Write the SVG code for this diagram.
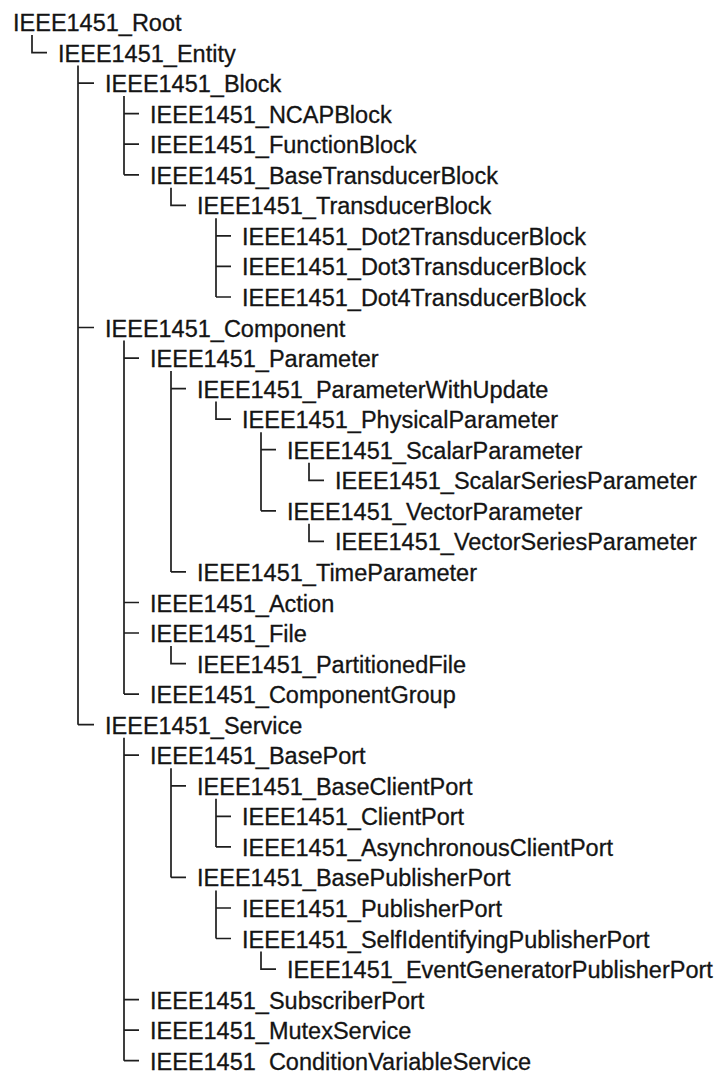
<svg xmlns="http://www.w3.org/2000/svg" width="723" height="1073" viewBox="0 0 723 1073">
<style>
text{font-family:"Liberation Sans",Arial,Helvetica,sans-serif;font-size:23.5px;fill:#141414;stroke:#141414;stroke-width:0.3}
.c path{fill:none;stroke:#1e1e1e;stroke-width:1.7}
</style>
<rect width="723" height="1073" fill="#ffffff"/>
<g class="c" id="connectors">
<path d="M32 35V52.6H47"/>
<path d="M78 65.6V724.7M78 83.1H94M78 327.5H94M78 724.7H94"/>
<path d="M124 96.1V174.8M124 113.7H139M124 144.2H139M124 174.8H139"/>
<path d="M171 187.8V205.3H186"/>
<path d="M216 218.3V297M216 235.9H231M216 266.4H231M216 297H231"/>
<path d="M124 340.5V694.1M124 358.1H139M124 602.5H139M124 633H139M124 694.1H139"/>
<path d="M171 371.1V571.9M171 388.6H186M171 571.9H186"/>
<path d="M216 401.6V419.2H231"/>
<path d="M261 432.2V510.8M261 449.7H276M261 510.8H276"/>
<path d="M309 462.7V480.3H324"/>
<path d="M309 523.8V541.4H324"/>
<path d="M171 646V663.6H186"/>
<path d="M124 737.7V1060.7M124 755.2H139M124 999.6H139M124 1030.2H139M124 1060.7H139"/>
<path d="M171 768.2V877.4M171 785.8H186M171 877.4H186"/>
<path d="M216 798.8V846.9M216 816.3H231M216 846.9H231"/>
<path d="M216 890.4V938.5M216 908H231M216 938.5H231"/>
<path d="M261 951.5V969.1H276"/>
</g>
<g id="n01"><text x="13" y="31">IEEE1451_Root</text></g>
<g id="n02"><text x="58" y="61.6">IEEE1451_Entity</text></g>
<g id="n03"><text x="105" y="92.1">IEEE1451_Block</text></g>
<g id="n04"><text x="150" y="122.7">IEEE1451_NCAPBlock</text></g>
<g id="n05"><text x="150" y="153.2">IEEE1451_FunctionBlock</text></g>
<g id="n06"><text x="150" y="183.8">IEEE1451_BaseTransducerBlock</text></g>
<g id="n07"><text x="197" y="214.3">IEEE1451_TransducerBlock</text></g>
<g id="n08"><text x="242" y="244.9">IEEE1451_Dot2TransducerBlock</text></g>
<g id="n09"><text x="242" y="275.4">IEEE1451_Dot3TransducerBlock</text></g>
<g id="n10"><text x="242" y="306">IEEE1451_Dot4TransducerBlock</text></g>
<g id="n11"><text x="105" y="336.5">IEEE1451_Component</text></g>
<g id="n12"><text x="150" y="367.1">IEEE1451_Parameter</text></g>
<g id="n13"><text x="197" y="397.6">IEEE1451_ParameterWithUpdate</text></g>
<g id="n14"><text x="242" y="428.2">IEEE1451_PhysicalParameter</text></g>
<g id="n15"><text x="287" y="458.7">IEEE1451_ScalarParameter</text></g>
<g id="n16"><text x="335" y="489.3">IEEE1451_ScalarSeriesParameter</text></g>
<g id="n17"><text x="287" y="519.8">IEEE1451_VectorParameter</text></g>
<g id="n18"><text x="335" y="550.4">IEEE1451_VectorSeriesParameter</text></g>
<g id="n19"><text x="197" y="580.9">IEEE1451_TimeParameter</text></g>
<g id="n20"><text x="150" y="611.5">IEEE1451_Action</text></g>
<g id="n21"><text x="150" y="642">IEEE1451_File</text></g>
<g id="n22"><text x="197" y="672.6">IEEE1451_PartitionedFile</text></g>
<g id="n23"><text x="150" y="703.1">IEEE1451_ComponentGroup</text></g>
<g id="n24"><text x="105" y="733.7">IEEE1451_Service</text></g>
<g id="n25"><text x="150" y="764.2">IEEE1451_BasePort</text></g>
<g id="n26"><text x="197" y="794.8">IEEE1451_BaseClientPort</text></g>
<g id="n27"><text x="242" y="825.3">IEEE1451_ClientPort</text></g>
<g id="n28"><text x="242" y="855.9">IEEE1451_AsynchronousClientPort</text></g>
<g id="n29"><text x="197" y="886.4">IEEE1451_BasePublisherPort</text></g>
<g id="n30"><text x="242" y="917">IEEE1451_PublisherPort</text></g>
<g id="n31"><text x="242" y="947.5">IEEE1451_SelfIdentifyingPublisherPort</text></g>
<g id="n32"><text x="287" y="978.1">IEEE1451_EventGeneratorPublisherPort</text></g>
<g id="n33"><text x="150" y="1008.6">IEEE1451_SubscriberPort</text></g>
<g id="n34"><text x="150" y="1039.2">IEEE1451_MutexService</text></g>
<g id="n35"><text x="150" y="1069.7">IEEE1451_ConditionVariableService</text></g>
</svg>
